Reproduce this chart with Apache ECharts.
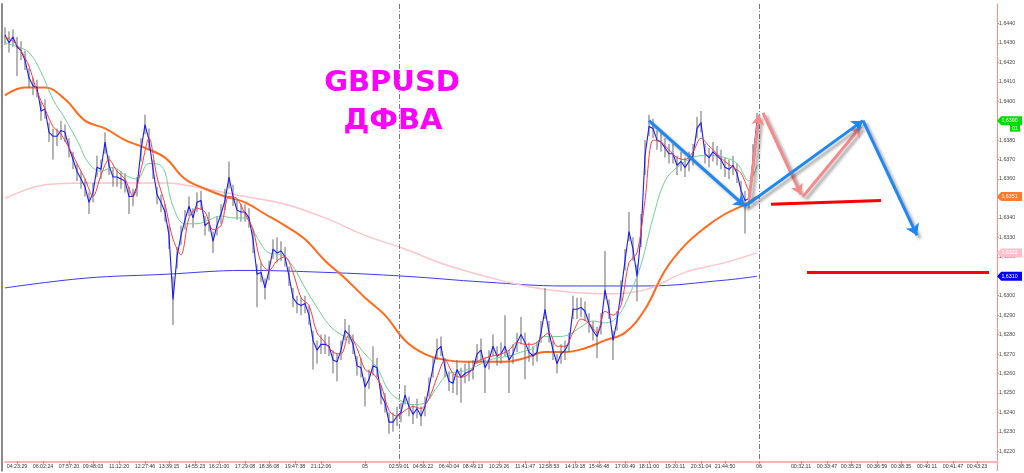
<!DOCTYPE html>
<html><head><meta charset="utf-8">
<script src="https://cdn.jsdelivr.net/npm/echarts@6/dist/echarts.min.js"></script>
<style>html,body{margin:0;padding:0;background:#fff}#c{width:1024px;height:473px}</style>
</head><body><div id="c"></div>
<script>
// ---------- data ----------
const TOTAL_BARS = 497;      // bars across the window incl. empty future space
const LAST_BAR = 376;        // last bar with price data
const xTickBars = [6,19,32,44,57,70,82,95,107,120,132,145,158,180,197,209,222,234,247,260,272,285,297,310,322,335,348,360,377,398,411,423,436,448,461,474,486];
const xTickLabels = ['04:23:29','06:02:24','07:57:20','09:48:03','11:12:20','12:27:46','13:39:15','14:55:23','16:21:00','17:29:08','18:36:08','19:47:38','21:12:06','05','02:59:01','04:56:22','06:40:04','08:49:13','10:29:26','11:41:47','12:58:53','14:19:18','15:46:48','17:00:49','18:11:00','19:20:11','20:31:04','21:44:50','06','00:32:11','00:33:47','00:35:23','00:36:59','00:38:35','00:40:11','00:41:47','00:43:23'];
const daySeparatorBars = [197, 377];

const CLOSE_STEP = 2;   // one price sample every 2 bars
const close = [
1.6434,1.6430,1.6433,1.6428,1.6426,1.6421,1.6412,1.6408,1.6407,1.6395,
1.6396,1.6384,1.6382,1.6382,1.6385,1.6384,1.6376,1.6370,1.6364,1.6360,
1.6356,1.6348,1.6353,1.6366,1.6365,1.6379,1.6367,1.6361,1.6361,1.6360,
1.6359,1.6351,1.6351,1.6356,1.6375,1.6388,1.6380,1.6365,1.6352,1.6348,
1.6343,1.6331,1.6298,1.6320,1.6331,1.6339,1.6346,1.6340,1.6348,1.6349,
1.6336,1.6338,1.6328,1.6336,1.6342,1.6349,1.6361,1.6351,1.6344,1.6343,
1.6343,1.6340,1.6329,1.6311,1.6312,1.6304,1.6313,1.6324,1.6322,1.6323,
1.6320,1.6310,1.6299,1.6296,1.6295,1.6296,1.6290,1.6277,1.6272,1.6275,
1.6275,1.6274,1.6267,1.6266,1.6272,1.6282,1.6280,1.6275,1.6264,1.6263,
1.6253,1.6257,1.6264,1.6263,1.6249,1.6245,1.6235,1.6235,1.6238,1.6240,
1.6249,1.6243,1.6239,1.6242,1.6238,1.6243,1.6253,1.6263,1.6272,1.6274,
1.6263,1.6256,1.6255,1.6262,1.6258,1.6260,1.6261,1.6262,1.6270,1.6272,
1.6263,1.6267,1.6274,1.6269,1.6270,1.6274,1.6267,1.6270,1.6276,1.6280,
1.6276,1.6271,1.6269,1.6271,1.6281,1.6293,1.6281,1.6272,1.6265,1.6270,
1.6272,1.6276,1.6293,1.6293,1.6294,1.6292,1.6286,1.6282,1.6279,1.6285,
1.6303,1.6293,1.6277,1.6287,1.6302,1.6318,1.6333,1.6324,1.6310,1.6331,
1.6372,1.6387,1.6386,1.6380,1.6379,1.6376,1.6373,1.6373,1.6367,1.6369,
1.6366,1.6369,1.6372,1.6386,1.6389,1.6373,1.6371,1.6374,1.6372,1.6370,
1.6366,1.6365,1.6367,1.6363,1.6354,1.6349,1.6350,1.6370,1.6390];
const high = [
1.6438,1.6436,1.6437,1.6433,1.6431,1.6426,1.6417,1.6412,1.6411,1.6400,
1.6401,1.6389,1.6386,1.6386,1.6390,1.6388,1.6381,1.6374,1.6368,1.6364,
1.6360,1.6353,1.6358,1.6372,1.6370,1.6384,1.6372,1.6366,1.6365,1.6364,
1.6363,1.6356,1.6355,1.6361,1.6381,1.6393,1.6386,1.6370,1.6356,1.6352,
1.6347,1.6336,1.6310,1.6325,1.6336,1.6344,1.6351,1.6345,1.6353,1.6354,
1.6341,1.6343,1.6333,1.6341,1.6347,1.6355,1.6369,1.6357,1.6349,1.6347,
1.6347,1.6345,1.6334,1.6316,1.6317,1.6309,1.6318,1.6329,1.6330,1.6328,
1.6325,1.6315,1.6304,1.6300,1.6299,1.6300,1.6295,1.6282,1.6277,1.6280,
1.6280,1.6279,1.6272,1.6270,1.6277,1.6288,1.6285,1.6280,1.6269,1.6268,
1.6258,1.6262,1.6274,1.6268,1.6254,1.6250,1.6240,1.6240,1.6243,1.6245,
1.6254,1.6248,1.6244,1.6247,1.6243,1.6248,1.6258,1.6268,1.6278,1.6279,
1.6268,1.6261,1.6260,1.6267,1.6263,1.6265,1.6266,1.6267,1.6275,1.6278,
1.6268,1.6272,1.6280,1.6274,1.6276,1.6290,1.6272,1.6275,1.6281,1.6289,
1.6281,1.6276,1.6274,1.6276,1.6287,1.6304,1.6287,1.6277,1.6270,1.6275,
1.6277,1.6281,1.6300,1.6299,1.6299,1.6297,1.6291,1.6287,1.6284,1.6291,
1.6323,1.6298,1.6282,1.6292,1.6308,1.6324,1.6343,1.6330,1.6316,1.6342,
1.6380,1.6393,1.6391,1.6385,1.6384,1.6381,1.6378,1.6378,1.6372,1.6374,
1.6371,1.6374,1.6378,1.6392,1.6395,1.6378,1.6376,1.6379,1.6377,1.6375,
1.6371,1.6370,1.6372,1.6368,1.6359,1.6354,1.6355,1.6378,1.6394];
const low = [
1.6429,1.6425,1.6428,1.6413,1.6421,1.6416,1.6407,1.6403,1.6402,1.6390,
1.6391,1.6379,1.6370,1.6377,1.6380,1.6379,1.6371,1.6365,1.6359,1.6355,
1.6351,1.6342,1.6348,1.6361,1.6360,1.6373,1.6362,1.6356,1.6356,1.6355,
1.6353,1.6342,1.6346,1.6351,1.6369,1.6383,1.6375,1.6360,1.6347,1.6343,
1.6338,1.6324,1.6285,1.6314,1.6326,1.6334,1.6341,1.6335,1.6343,1.6344,
1.6331,1.6333,1.6322,1.6331,1.6337,1.6344,1.6355,1.6346,1.6339,1.6338,
1.6338,1.6335,1.6322,1.6294,1.6307,1.6298,1.6308,1.6319,1.6317,1.6318,
1.6315,1.6305,1.6294,1.6291,1.6290,1.6291,1.6285,1.6262,1.6265,1.6270,
1.6270,1.6269,1.6260,1.6256,1.6267,1.6277,1.6275,1.6270,1.6259,1.6258,
1.6243,1.6252,1.6259,1.6258,1.6244,1.6240,1.6229,1.6230,1.6233,1.6235,
1.6244,1.6238,1.6234,1.6237,1.6233,1.6238,1.6248,1.6258,1.6267,1.6269,
1.6258,1.6251,1.6250,1.6249,1.6245,1.6255,1.6256,1.6257,1.6265,1.6266,
1.6250,1.6262,1.6269,1.6264,1.6265,1.6269,1.6250,1.6265,1.6271,1.6275,
1.6257,1.6266,1.6264,1.6266,1.6276,1.6288,1.6276,1.6267,1.6260,1.6265,
1.6267,1.6271,1.6288,1.6288,1.6289,1.6287,1.6281,1.6277,1.6268,1.6280,
1.6298,1.6288,1.6267,1.6282,1.6297,1.6313,1.6328,1.6318,1.6297,1.6325,
1.6362,1.6382,1.6381,1.6375,1.6374,1.6371,1.6368,1.6368,1.6362,1.6364,
1.6361,1.6364,1.6367,1.6381,1.6384,1.6368,1.6366,1.6369,1.6367,1.6365,
1.6361,1.6360,1.6362,1.6358,1.6349,1.6332,1.6345,1.6362,1.6385];

const RED_STEP = 4;
const maRed = [
1.6433,1.6431,1.6426,1.6418,1.6405,1.6396,1.6387,1.6383,1.6376,1.6368,
1.6360,1.6351,1.6362,1.6370,1.6364,1.6360,1.6351,1.6365,1.6381,1.6361,
1.6347,1.6329,1.6321,1.6340,1.6345,1.6343,1.6334,1.6336,1.6351,1.6350,
1.6342,1.6334,1.6317,1.6313,1.6318,1.6320,1.6312,1.6299,1.6295,1.6281,
1.6276,1.6271,1.6270,1.6280,1.6273,1.6262,1.6260,1.6254,1.6241,1.6238,
1.6241,1.6243,1.6242,1.6247,1.6258,1.6267,1.6260,1.6258,1.6260,1.6266,
1.6268,1.6269,1.6270,1.6272,1.6276,1.6275,1.6275,1.6278,1.6281,1.6274,
1.6274,1.6281,1.6288,1.6286,1.6281,1.6292,1.6290,1.6295,1.6317,1.6322,
1.6349,1.6380,1.6379,1.6375,1.6371,1.6370,1.6374,1.6381,1.6377,1.6373,
1.6369,1.6366,1.6363,1.6354,1.6385];
const GREEN_STEP = 6;
const maGreen = [
1.6430,1.6428,1.6425,1.6415,1.6401,1.6391,1.6380,1.6368,1.6364,1.6366,
1.6362,1.6360,1.6368,1.6367,1.6346,1.6337,1.6337,1.6339,1.6341,1.6340,
1.6340,1.6330,1.6322,1.6321,1.6315,1.6304,1.6294,1.6285,1.6280,1.6277,
1.6270,1.6263,1.6251,1.6246,1.6244,1.6245,1.6253,1.6260,1.6261,1.6263,
1.6266,1.6268,1.6269,1.6271,1.6273,1.6279,1.6279,1.6280,1.6284,1.6287,
1.6286,1.6289,1.6300,1.6316,1.6340,1.6359,1.6366,1.6370,1.6372,1.6372,
1.6371,1.6368,1.6359,1.6367];
const ORANGE_STEP = 10;
const maOrange = [
1.6403,1.6407,1.6407,1.6401,1.6390,1.6386,1.6380,1.6376,1.6371,1.6360,
1.6355,1.6351,1.6348,1.6342,1.6336,1.6329,1.6318,1.6309,1.6299,1.6290,
1.6277,1.6270,1.6267,1.6266,1.6266,1.6266,1.6268,1.6271,1.6271,1.6273,
1.6277,1.6281,1.6293,1.6313,1.6326,1.6335,1.6342,1.6347,1.6351];
const PINK_STEP = 20;
const maPink = [1.6350,1.6357,1.6358,1.6358,1.6358,1.6355,1.6351,1.6347,1.6340,1.6331,
1.6324,1.6316,1.6310,1.6305,1.6302,1.6301,1.6303,1.6312,1.6317,1.6322];
const PURPLE_STEP = 40;
const maPurple = [1.6304,1.6309,1.6311,1.6313,1.6312,1.6310,1.6307,1.6305,1.6305,1.6308,1.6310];

// annotations (bar index, price)
const blueArrows = [[[322,1.6390],[370,1.6346]],[[370,1.6346],[429,1.6390]],[[429,1.6390],[456,1.6331]]];
const pinkArrows = [[[372,1.6349],[377,1.6393]],[[379,1.6394],[398,1.6352]],[[399,1.6351],[428,1.6387]]];
const redLevels  = [[[383,1.6347],[438,1.6349]],[[401,1.6312],[492,1.6312]]];

const Y_MIN = 1.6210, Y_MAX = 1.6450, Y_STEP = 0.0010, Y_BOTTOM_VISIBLE = 1.6215;

// ---------- build ----------
const categories = new Array(TOTAL_BARS).fill('');
xTickBars.forEach((b, i) => { categories[b] = xTickLabels[i]; });
const onBars = (vals, step) => vals.map((v, k) => [Math.min(k * step, LAST_BAR), v]);
const fmt = v => v.toFixed(4).replace('.', ',');
const showTick = (idx, val) => val !== '';
const barData = close.map((c, i) => [i * CLOSE_STEP, low[i], high[i]]);
const TAG = 'path://M0,5L5,0L30,0L30,10L5,10Z';
const lastBar = TOTAL_BARS - 1;
const tag = (val, color) => ({
  coord: [lastBar, val], symbol: TAG, symbolSize: [25, 9], symbolOffset: [12.5, 0],
  itemStyle: { color }, label: { show: true, position: 'inside', formatter: fmt(val), color: '#fff', fontSize: 5.3 }
});
const lastOf = a => a[a.length - 1];

const chart = echarts.init(document.getElementById('c'), null, { renderer: 'canvas' });
chart.setOption({
  animation: false,
  backgroundColor: '#ffffff',
  textStyle: { fontFamily: 'Liberation Sans' },
  grid: { left: 5, right: 27, top: 3.95, bottom: 2.25 },
  graphic: [
    { type: 'text', x: 392, y: 83, z: 50, style: { text: 'GBPUSD', fill: '#ff00ff', font: 'bold 29px "DejaVu Sans"', align: 'center', verticalAlign: 'middle' } },
    { type: 'text', x: 393, y: 121, z: 50, style: { text: 'ДФВА', fill: '#ff00ff', font: 'bold 29px "DejaVu Sans"', align: 'center', verticalAlign: 'middle' } }
  ],
  xAxis: {
    type: 'category', data: categories, boundaryGap: false, offset: -9.25,
    axisLine: { lineStyle: { color: '#ffb4b4', width: 2 } },
    axisTick: { interval: showTick, length: 2, lineStyle: { color: '#ff5050' } },
    axisLabel: { interval: showTick, fontSize: 5.3, color: '#333', margin: 3 },
    splitLine: { show: false }
  },
  yAxis: [{
    type: 'value', position: 'right', min: Y_MIN, max: Y_MAX, interval: Y_STEP,
    axisLine: { show: true, lineStyle: { color: '#ff8a8a', width: 1 } },
    axisTick: { show: true, length: 2, lineStyle: { color: '#ff8a8a' } },
    axisLabel: { showMinLabel: false, showMaxLabel: false, formatter: fmt, fontSize: 5.3, color: '#444', margin: 2 },
    splitLine: { show: false }
  }, {
    type: 'value', position: 'left', min: Y_MIN, max: Y_MAX, offset: 3,
    axisLine: { show: true, lineStyle: { color: '#8a8a8a', width: 2 } },
    axisTick: { show: false }, axisLabel: { show: false }, splitLine: { show: false }
  }],
  series: [
    { type: 'line', name: 'MA long', data: onBars(maPurple, PURPLE_STEP), smooth: 0.4, showSymbol: false, symbol: 'none',
      lineStyle: { color: '#3a3aff', width: 1 }, z: 2,
      markPoint: { silent: true, data: [tag(lastOf(maPurple), '#0000ff')] } },
    { type: 'line', name: 'MA pink', data: onBars(maPink, PINK_STEP), smooth: 0.4, showSymbol: false, symbol: 'none',
      lineStyle: { color: '#ffc4cc', width: 1.5 }, z: 2,
      markPoint: { silent: true, data: [tag(lastOf(maPink), '#ffc0cb')] } },
    { type: 'line', name: 'MA orange', data: onBars(maOrange, ORANGE_STEP), smooth: 0.4, showSymbol: false, symbol: 'none',
      lineStyle: { color: '#ff6a1c', width: 2 }, z: 3,
      markPoint: { silent: true, data: [tag(lastOf(maOrange), '#ff7a2a')] } },
    { type: 'custom', name: 'bars', data: barData, encode: { x: 0, y: [1, 2] }, z: 4, silent: true,
      renderItem: (p, api) => {
        const a = api.coord([api.value(0), api.value(1)]);
        const b = api.coord([api.value(0), api.value(2)]);
        return { type: 'rect', shape: { x: a[0] - 1, y: b[1], width: 2, height: a[1] - b[1] }, style: { fill: 'rgba(105,105,105,0.5)' } };
      } },
    { type: 'line', name: 'MA green', data: onBars(maGreen, GREEN_STEP), smooth: 0.4, showSymbol: false, symbol: 'none',
      lineStyle: { color: '#6fcf95', width: 1 }, z: 5 },
    { type: 'line', name: 'close', data: onBars(close, CLOSE_STEP), showSymbol: false, symbol: 'none',
      lineStyle: { color: '#1a1aff', width: 1.1 }, z: 6,
      markLine: { silent: true, symbol: ['none', 'none'], label: { show: false },
        lineStyle: { color: '#777', width: 1, type: [5, 2, 1, 2] },
        data: daySeparatorBars.map(b => [{ coord: [b, Y_MAX] }, { coord: [b, Y_BOTTOM_VISIBLE] }]) },
      markPoint: { silent: true, data: [
        tag(lastOf(close), '#00dd00'),
        { coord: [lastBar, lastOf(close)], symbol: 'rect', symbolSize: [10, 7], symbolOffset: [18, 7.5], itemStyle: { color: '#00dd00' },
          label: { show: true, position: 'inside', formatter: '01', color: '#fff', fontSize: 5.3 } }
      ] } },
    { type: 'line', name: 'MA red', data: onBars(maRed, RED_STEP), smooth: 0.3, showSymbol: false, symbol: 'none',
      lineStyle: { color: '#ff3b3b', width: 1 }, z: 7 },
    { type: 'lines', coordinateSystem: 'cartesian2d', z: 10, silent: true,
      data: redLevels.map(c => ({ coords: c })), symbol: ['none', 'none'],
      lineStyle: { color: '#ff0000', width: 3, opacity: 1 } },
    { type: 'lines', coordinateSystem: 'cartesian2d', z: 11, silent: true,
      data: pinkArrows.map(c => ({ coords: c })), symbol: ['none', 'arrow'], symbolSize: 10,
      lineStyle: { color: '#f48a8a', width: 3, opacity: 1, shadowColor: 'rgba(0,0,0,0.35)', shadowBlur: 3, shadowOffsetX: 3, shadowOffsetY: 3 } },
    { type: 'lines', coordinateSystem: 'cartesian2d', z: 12, silent: true,
      data: blueArrows.map(c => ({ coords: c })), symbol: ['none', 'arrow'], symbolSize: 11,
      lineStyle: { color: '#1e88f0', width: 3, opacity: 1, shadowColor: 'rgba(0,0,0,0.35)', shadowBlur: 3, shadowOffsetX: 3, shadowOffsetY: 3 } }
  ]
});
</script>
</body></html>
